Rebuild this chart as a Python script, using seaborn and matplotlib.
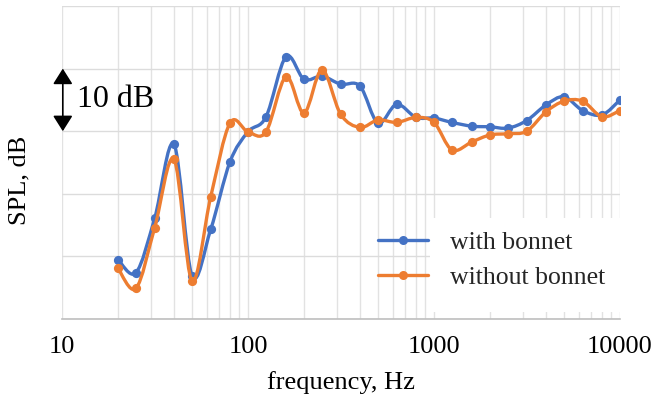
import numpy as np
import pandas as pd
import matplotlib
matplotlib.use("Agg")
import matplotlib.pyplot as plt
import seaborn as sns
from matplotlib.path import Path
from matplotlib.patches import PathPatch, FancyArrowPatch, Rectangle
from matplotlib.lines import Line2D
from matplotlib.ticker import LogLocator, NullFormatter

# ---------------- data ----------------
freq = [20, 25, 31.5, 40, 50, 63, 80, 100, 125, 160, 200, 250, 315, 400, 500,
        630, 800, 1000, 1250, 1600, 2000, 2500, 3150, 4000, 5000, 6300, 8000, 10000]
with_bonnet = [9.5, 7.4, 16.1, 27.9, 6.9, 14.3, 25.1, 29.9, 32.3, 41.9, 38.3, 38.8,
               37.5, 37.2, 31.3, 34.3, 32.2, 32.1, 31.4, 30.8, 30.7, 30.5, 31.7,
               34.2, 35.5, 33.3, 32.6, 35.0]
without_bonnet = [8.1, 4.9, 14.6, 25.5, 6.1, 19.5, 31.3, 29.9, 29.9, 38.7, 32.9, 39.8,
                  32.7, 30.6, 31.8, 31.4, 32.2, 31.4, 27.0, 28.3, 29.4, 29.6, 30.0,
                  33.1, 34.8, 34.8, 32.3, 33.3]
series_names = ["with bonnet", "without bonnet"]
series_colors = ["#4472C4", "#ED7D31"]
x_ticks = [10, 100, 1000, 10000]
x_tick_labels = ["10", "100", "1000", "10000"]
y_grid = [0, 10, 20, 30, 40, 50]

df = pd.concat([
    pd.DataFrame({"freq": freq, "spl": with_bonnet, "series": series_names[0]}),
    pd.DataFrame({"freq": freq, "spl": without_bonnet, "series": series_names[1]}),
])

# ---------------- style ----------------
sns.set_theme(style="white")
plt.rcParams["font.family"] = ["Liberation Serif", "DejaVu Serif"]

W, H = 657, 396
fig = plt.figure(figsize=(W / 100, H / 100), dpi=100)
ax = fig.add_axes([62 / W, (H - 319) / H, (620 - 62) / W, (319 - 6) / H])
ax.set_xscale("log")
ax.set_xlim(10, 10000)
ax.set_ylim(0, 50)
ax.set_axisbelow(True)


def smooth_path(xs, ys):
    """Excel-like smoothed line (Catmull-Rom Bezier) in log-x space."""
    P = np.column_stack([np.log10(np.asarray(xs, float)), np.asarray(ys, float)])
    n = len(P)
    verts = [P[0]]
    codes = [Path.MOVETO]
    for i in range(n - 1):
        p0 = P[i - 1] if i > 0 else P[i]
        p1, p2 = P[i], P[i + 1]
        p3 = P[i + 2] if i + 2 < n else P[i + 1]
        verts += [p1 + (p2 - p0) / 6, p2 - (p3 - p1) / 6, p2]
        codes += [Path.CURVE4] * 3
    V = np.array(verts)
    V[:, 0] = 10 ** V[:, 0]
    return Path(V, codes)


for k, (name, col) in enumerate(zip(series_names, series_colors)):
    sub = df[df["series"] == name]
    ax.add_patch(PathPatch(smooth_path(sub["freq"], sub["spl"]), facecolor="none",
                           edgecolor=col, lw=2.4, capstyle="round", joinstyle="round",
                           zorder=3 + 2 * k))
    sns.scatterplot(data=sub, x="freq", y="spl", color=col, s=44, linewidth=0,
                    ax=ax, zorder=4 + 2 * k, legend=False)

# grid
ax.set_xticks(x_ticks, x_tick_labels)
ax.xaxis.set_minor_locator(LogLocator(base=10, subs=np.arange(2, 10)))
ax.xaxis.set_minor_formatter(NullFormatter())
ax.set_yticks(y_grid, [""] * len(y_grid))
ax.grid(which="both", axis="x", color="#e2e2e2", lw=1)
ax.grid(which="major", axis="y", color="#dcdcdc", lw=1)
ax.tick_params(axis="both", which="both", length=0)
ax.tick_params(axis="x", labelsize=19, pad=12, colors="black")
for s in ["top", "left", "right"]:
    ax.spines[s].set_visible(False)
ax.spines["bottom"].set_color("#bfbfbf")
ax.spines["bottom"].set_linewidth(1.2)

ax.set_xlabel("frequency, Hz", fontsize=19, color="black")
ax.set_ylabel("SPL, dB", fontsize=19, color="black")
ax.xaxis.set_label_coords(0.5, -0.165)
ax.yaxis.set_label_coords(-0.056, 0.4425)

# 10 dB scale arrow
arr = FancyArrowPatch((10.1, 30), (10.1, 40), arrowstyle="<|-|>,head_length=0.95,head_width=0.6",
                      mutation_scale=10, color="black", lw=1.2, shrinkA=0, shrinkB=0,
                      clip_on=False, zorder=6)
ax.add_patch(arr)
ax.text(12.1, 35, "10 dB", fontsize=23, va="center", ha="left", color="black")

# legend with white background
ax.add_patch(Rectangle((430 / W, (H - 312) / H), (622 - 430) / W, 94 / H,
                       transform=fig.transFigure, facecolor="white", edgecolor="none",
                       zorder=1.5))
handles = [Line2D([], [], color=c, lw=2.4, marker="o", markersize=6.5, markeredgewidth=0)
           for c in series_colors]
ax.legend(handles, series_names, loc="upper left", bbox_to_anchor=(378 / W, (H - 231) / H),
          bbox_transform=fig.transFigure, frameon=False, fontsize=18.5, borderpad=0,
          handlelength=1.95, handletextpad=0.85, labelspacing=0.47, borderaxespad=0)

fig.savefig("out.png", dpi=100)
